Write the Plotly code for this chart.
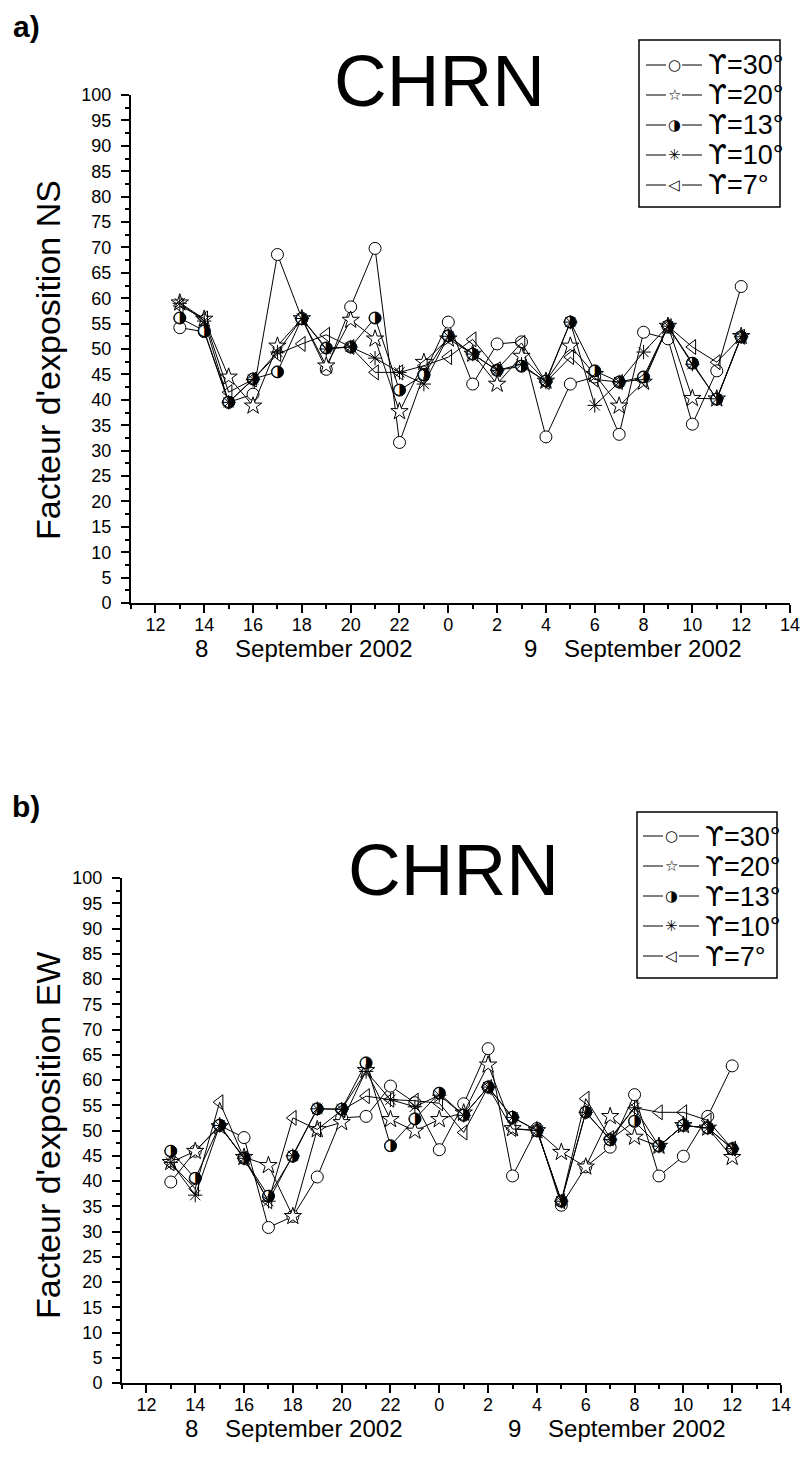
import plotly.graph_objects as go

W, H = 801, 1466

# hours since 00h on 8 Sep 2002 (13h on the 8th .. 12h on the 9th)
hours = list(range(13, 37))
tick_hours = list(range(12, 39, 2))
tick_text = [str(h % 24) for h in tick_hours]
gamma_values = ["30", "20", "13", "10", "7"]
date_labels = ["8\u00a0\u00a0\u00a0\u00a0September 2002", "9\u00a0\u00a0\u00a0\u00a0September 2002"]

# a) NS exposure factor
ns_g30 = [54.2, 53.4, 39.5, 41.1, 68.6, 56.0, 46.0, 58.3, 69.8, 31.6, 45.0, 55.3,
          43.1, 51.0, 51.4, 32.7, 43.1, 44.5, 33.2, 53.3, 52.0, 35.2, 45.7, 62.3]
ns_g20 = [59.1, 55.9, 44.5, 38.8, 50.6, 56.0, 46.7, 55.7, 52.0, 37.7, 47.4, 52.0,
          49.0, 43.1, 48.6, 43.7, 50.6, 45.0, 38.8, 43.5, 54.5, 40.3, 40.2, 52.5]
ns_g13 = [56.1, 53.6, 39.5, 44.1, 45.5, 56.0, 50.2, 50.4, 56.1, 41.9, 44.9, 52.6,
          49.0, 45.8, 46.6, 43.7, 55.3, 45.7, 43.5, 44.5, 54.5, 47.2, 40.1, 52.4]
ns_g10 = [59.0, 55.5, 39.5, 44.0, 49.4, 56.0, 50.0, 50.4, 48.2, 45.4, 43.1, 52.5,
          49.0, 45.8, 47.0, 43.5, 55.3, 38.9, 43.5, 49.4, 54.5, 47.0, 40.2, 52.4]
ns_g7 = [58.5, 56.0, 41.5, 44.0, 49.0, 51.0, 52.8, 50.4, 45.4, 45.4, 46.7, 48.4,
         51.9, 46.0, 51.2, 43.5, 48.4, 44.0, 43.5, 44.0, 54.5, 50.4, 47.4, 52.4]

# b) EW exposure factor
ew_g30 = [39.8, 45.9, 51.0, 48.6, 30.8, 33.0, 40.8, 52.5, 52.8, 58.8, 55.5, 46.2,
          55.3, 66.2, 41.0, 50.4, 35.2, 42.8, 46.7, 57.1, 41.0, 44.9, 52.8, 62.8]
ew_g20 = [43.7, 45.9, 50.8, 44.7, 43.1, 33.0, 50.2, 51.6, 61.9, 52.2, 49.9, 52.2,
          53.5, 63.0, 50.4, 50.0, 45.7, 42.8, 52.8, 48.7, 46.9, 51.0, 50.5, 44.7]
ew_g13 = [45.9, 40.5, 51.0, 44.5, 37.0, 44.9, 54.3, 54.2, 63.4, 47.0, 52.3, 57.4,
          53.0, 58.6, 52.6, 50.0, 36.0, 53.6, 48.2, 51.8, 46.9, 51.0, 50.5, 46.4]
ew_g10 = [43.7, 37.2, 51.0, 44.5, 36.0, 45.0, 54.3, 54.2, 61.7, 56.1, 54.7, 57.0,
          53.0, 58.6, 52.6, 50.0, 36.0, 53.6, 48.2, 54.5, 46.9, 51.0, 50.5, 46.4]
ew_g7 = [43.5, 38.5, 55.6, 44.5, 36.0, 52.5, 50.2, 54.0, 56.8, 56.1, 55.9, 55.4,
         49.6, 58.6, 50.3, 50.0, 36.0, 56.3, 48.5, 54.5, 53.6, 53.6, 52.0, 46.4]

FONT = "Liberation Sans, Arial, sans-serif"


# window pixel -> paper fraction
def px(x):
    return x / W


def py(y):
    return 1 - y / H


# marker styles per gamma (30, 20, 13, 10, 7)
styles = [
    dict(symbol="circle", color="white", line=dict(color="black", width=1), size=12),
    dict(symbol="star", color="white", line=dict(color="black", width=1), size=13),
    dict(symbol="circle", color="white", line=dict(color="black", width=1), size=12),
    dict(symbol="asterisk-open", color="black", line=dict(color="black", width=1), size=12),
    dict(symbol="triangle-left-open", color="black", line=dict(color="black", width=1), size=13),
]
legend_glyphs = ["○", "☆", "◑", "✳", "◁"]
legend_labels = ["<span style='font-family:DejaVu Sans'>ϒ</span>=%s°" % g for g in gamma_values]

fig = go.Figure()

panels = [
    dict(series=[ns_g30, ns_g20, ns_g13, ns_g10, ns_g7], xa="x", ya="y"),
    dict(series=[ew_g30, ew_g20, ew_g13, ew_g10, ew_g7], xa="x2", ya="y2"),
]
for p in panels:
    for i, vals in enumerate(p["series"]):
        fig.add_trace(go.Scatter(
            x=hours, y=vals, mode="lines+markers", xaxis=p["xa"], yaxis=p["ya"],
            line=dict(color="black", width=1), marker=styles[i],
            showlegend=False, name="γ=%s°" % gamma_values[i]))
        if i == 2:
            # half-filled circle drawn as a glyph on top of the white marker
            fig.add_trace(go.Scatter(
                x=hours, y=vals, mode="text", text=["◑"] * len(hours),
                textposition="middle center", xaxis=p["xa"], yaxis=p["ya"],
                textfont=dict(family="DejaVu Sans", size=16, color="black"),
                showlegend=False, hoverinfo="skip"))

xax = dict(range=[11, 38], tickvals=tick_hours, ticktext=tick_text, automargin=False,
           showline=True, linecolor="black", linewidth=2, ticks="outside",
           ticklen=8, tickwidth=2, tickcolor="black", showgrid=False, zeroline=False,
           ticklabelstandoff=-4,
           minor=dict(tickvals=list(range(11, 39)), ticklen=4, tickwidth=2,
                      tickcolor="black", ticks="outside", showgrid=False),
           tickfont=dict(family=FONT, size=18, color="black"), fixedrange=True)
yax = dict(range=[0, 100], tick0=0, dtick=5, automargin=False,
           showline=True, linecolor="black", linewidth=2, ticks="outside",
           ticklen=8, tickwidth=2, tickcolor="black", showgrid=False, zeroline=False,
           ticklabelstandoff=6,
           minor=dict(dtick=2.5, ticklen=4, tickwidth=2, tickcolor="black",
                      ticks="outside", showgrid=False),
           tickfont=dict(family=FONT, size=18, color="black"), fixedrange=True)

fig.update_layout(
    width=W, height=H, autosize=False,
    margin=dict(l=0, r=0, t=0, b=0, pad=0, autoexpand=False),
    paper_bgcolor="white", plot_bgcolor="white",
    xaxis=dict(xax, domain=[px(131), px(790)], anchor="y"),
    yaxis=dict(yax, domain=[py(603), py(95)], anchor="x"),
    xaxis2=dict(xax, domain=[px(122), px(781)], anchor="y2"),
    yaxis2=dict(yax, domain=[py(1383), py(878)], anchor="x2"),
)

ann = []
shapes = []
panel_text = [
    dict(tag="a)", tag_xy=(26, 26), title_xy=(439, 80), ytitle="Facteur d'exposition NS",
         ytitle_xy=(48, 360), date_y=648, date_x=(303, 632),
         box=(639, 40, 780, 207), row0=65, line_x=(646, 702), text_x=706),
    dict(tag="b)", tag_xy=(26, 806), title_xy=(453, 870), ytitle="Facteur d'exposition EW",
         ytitle_xy=(48, 1136), date_y=1428, date_x=(293, 616),
         box=(637, 812, 777, 978), row0=836, line_x=(643, 699), text_x=703),
]


def note(text, x, y, size, family=FONT, xanchor="center", angle=0):
    return dict(text=text, x=px(x), y=py(y), xref="paper", yref="paper",
                xanchor=xanchor, yanchor="middle", showarrow=False, textangle=angle,
                font=dict(family=family, size=size, color="black"))


for t in panel_text:
    ann.append(note("<b>%s</b>" % t["tag"], *t["tag_xy"], 30))
    ann.append(note("CHRN", *t["title_xy"], 73))
    ann.append(note(t["ytitle"], *t["ytitle_xy"], 34, angle=-90))
    for dx, lab in zip(t["date_x"], date_labels):
        ann.append(note(lab, dx, t["date_y"], 24))
    # legend box
    x0, y0, x1, y1 = t["box"]
    shapes.append(dict(type="rect", xref="paper", yref="paper", x0=px(x0), x1=px(x1),
                       y0=py(y0), y1=py(y1), line=dict(color="black", width=1.5)))
    lx0, lx1 = t["line_x"]
    mid = (lx0 + lx1) / 2
    for k, (g, lab) in enumerate(zip(legend_glyphs, legend_labels)):
        ry = t["row0"] + 30 * k
        for a, b in [(lx0, mid - 8), (mid + 8, lx1)]:
            shapes.append(dict(type="line", xref="paper", yref="paper", x0=px(a), x1=px(b),
                               y0=py(ry), y1=py(ry), line=dict(color="black", width=1)))
        ann.append(note(g, mid, ry, 15, family="DejaVu Sans"))
        ann.append(note(lab, t["text_x"], ry, 27, xanchor="left"))

fig.update_layout(annotations=ann, shapes=shapes)
# drop the default page margin so the figure sits at the window's corner
fig.write_html("out.html", config={"displayModeBar": False},
               post_script="document.body.style.margin='0';document.body.style.overflow='hidden';")
